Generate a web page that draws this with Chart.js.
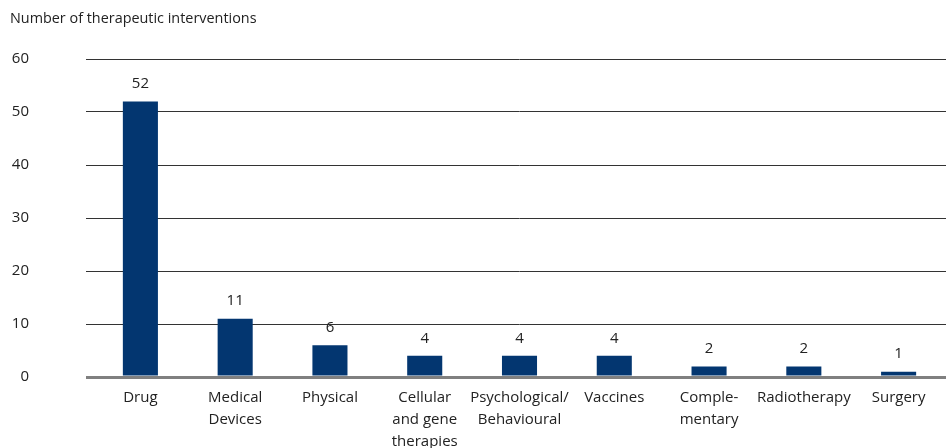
<!DOCTYPE html>
<html>
<head>
<meta charset="utf-8">
<script src="https://cdn.jsdelivr.net/npm/chart.js@4"></script>
<style>
  html, body { margin: 0; padding: 0; background: #fff; }
  #wrap { width: 946px; height: 448px; }
</style>
</head>
<body>
<div id="wrap"><canvas id="interventionsChart"></canvas></div>
<script>
// Data
const categories = [
    'Drug',
    ['Medical', 'Devices'],
    'Physical',
    ['Cellular', 'and gene', 'therapies'],
    ['Psychological/', 'Behavioural'],
    'Vaccines',
    ['Comple-', 'mentary'],
    'Radiotherapy',
    'Surgery'
];
const interventions = [52, 11, 6, 4, 4, 4, 2, 2, 1];
const yTicks = [0, 10, 20, 30, 40, 50, 60];
const axisTitle = 'Number of therapeutic interventions';

const textColor = '#222222';
const fontFamily = '"Open Sans", "Noto Sans", sans-serif';

// Axis title in the top-left corner
const cornerTitle = {
    id: 'cornerTitle',
    afterDraw(chart) {
        const ctx = chart.ctx;
        ctx.save();
        ctx.font = '14.4px ' + fontFamily;
        ctx.fillStyle = textColor;
        ctx.textAlign = 'left';
        ctx.textBaseline = 'middle';
        ctx.fillText(axisTitle, 10, 19);
        ctx.restore();
    }
};

// Draw value numbers above bars
const valueLabels = {
    id: 'valueLabels',
    afterDatasetsDraw(chart) {
        const ctx = chart.ctx;
        const meta = chart.getDatasetMeta(0);
        ctx.save();
        ctx.font = '15px ' + fontFamily;
        ctx.fillStyle = textColor;
        ctx.textAlign = 'center';
        ctx.textBaseline = 'bottom';
        meta.data.forEach((bar, i) => {
            ctx.fillText(String(interventions[i]), bar.x, bar.y - 10);
        });
        ctx.restore();
    }
};

const ctx = document.getElementById('interventionsChart');

new Chart(ctx.getContext('2d'), {
    type: 'bar',
    data: {
        labels: categories,
        datasets: [{
            label: axisTitle,
            data: interventions,
            backgroundColor: '#033670',
            barPercentage: 0.37,
            categoryPercentage: 1
        }]
    },
    options: {
        responsive: true,
        maintainAspectRatio: false,
        animation: false,
        layout: {
            padding: { top: 59, left: 10, right: 0, bottom: 0 }
        },
        plugins: {
            legend: {
                display: false
            },
            tooltip: {
                enabled: false
            }
        },
        scales: {
            x: {
                grid: {
                    display: false,
                    drawTicks: false
                },
                border: {
                    display: false
                },
                ticks: {
                    color: textColor,
                    font: { family: fontFamily, size: 15, lineHeight: 1.47 },
                    padding: 10,
                    maxRotation: 0,
                    autoSkip: false
                },
                afterFit(scale) {
                    scale.height = 71;
                }
            },
            y: {
                min: 0,
                max: 60,
                afterBuildTicks(scale) {
                    scale.ticks = yTicks.map(v => ({ value: v }));
                },
                grid: {
                    color: (c) => c.tick && c.tick.value === 0 ? '#808080' : '#333333',
                    lineWidth: (c) => c.tick && c.tick.value === 0 ? 3 : 1,
                    tickLength: 7,
                    tickColor: (c) => c.tick && c.tick.value === 0 ? '#808080' : '#333333',
                    tickWidth: (c) => c.tick && c.tick.value === 0 ? 3 : 1
                },
                border: {
                    display: false
                },
                ticks: {
                    color: textColor,
                    font: { family: fontFamily, size: 15 },
                    padding: 57
                },
                afterFit(scale) {
                    // the wide tick padding should not push the plot down
                    scale.width = 83;
                    scale.paddingTop = 0;
                    scale.paddingBottom = 0;
                }
            }
        }
    },
    plugins: [valueLabels, cornerTitle]
});
</script>
</body>
</html>
